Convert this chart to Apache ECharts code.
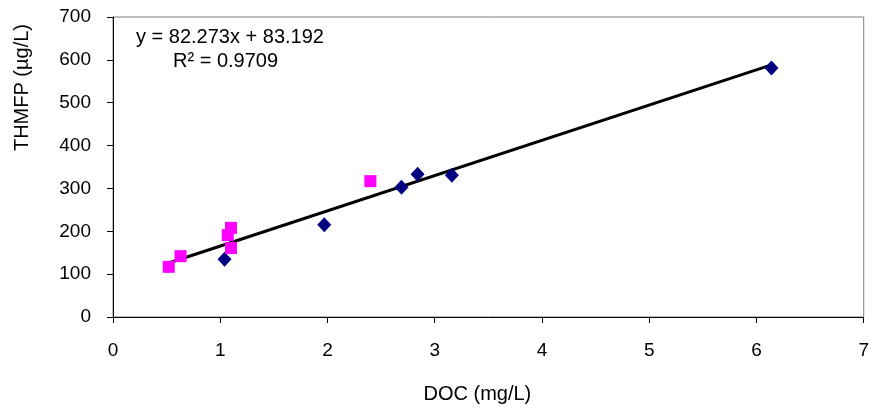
<!DOCTYPE html>
<html>
<head>
<meta charset="utf-8">
<script src="https://cdn.jsdelivr.net/npm/echarts@6/dist/echarts.min.js"></script>
<style>
  html, body { margin: 0; padding: 0; background: #fff; }
  #chart { width: 872px; height: 412px; }
</style>
</head>
<body>
<div id="chart"></div>
<script>
// DOC (mg/L) vs THMFP (µg/L) for two sample groups
const diamondDOC   = [6.14, 3.16, 2.84, 2.69, 1.97, 1.04];
const diamondTHMFP = [581, 331, 333, 303, 215, 135];
const squareDOC    = [0.52, 0.63, 1.10, 1.07, 1.10, 2.40];
const squareTHMFP  = [117, 142, 208, 191, 161, 317];

// Linear trend reported on the chart
const slope = 82.273;
const intercept = 83.192;
const r2 = 0.9709;

const xTicks = [0, 1, 2, 3, 4, 5, 6, 7];
const yTicks = [0, 100, 200, 300, 400, 500, 600, 700];

const FONT = '"Liberation Sans", Arial, sans-serif';

const allX = diamondDOC.concat(squareDOC);
const xMin = Math.min.apply(null, allX);
const xMax = Math.max.apply(null, allX);
const trend = [[xMin, slope * xMin + intercept], [xMax, slope * xMax + intercept]];

const chart = echarts.init(document.getElementById('chart'), null, { renderer: 'canvas' });

chart.setOption({
  backgroundColor: '#ffffff',
  animation: false,
  grid: {
    left: 113, right: 5, top: 17, bottom: 95,
    show: true, borderColor: '#808080', borderWidth: 1, backgroundColor: 'transparent'
  },
  xAxis: {
    type: 'value',
    min: xTicks[0], max: xTicks[xTicks.length - 1], interval: 1,
    name: 'DOC (mg/L)',
    nameLocation: 'middle',
    nameGap: 67,
    nameTextStyle: { fontFamily: FONT, fontSize: 20, color: '#000', padding: [0, 22, 0, 0] },
    axisLine: { show: true, onZero: false, lineStyle: { color: '#000', width: 1 } },
    axisTick: { show: true, inside: false, length: 6, lineStyle: { color: '#000' } },
    axisLabel: { fontFamily: FONT, fontSize: 19, color: '#000', margin: 24 },
    splitLine: { show: false }
  },
  yAxis: {
    type: 'value',
    min: yTicks[0], max: yTicks[yTicks.length - 1], interval: 100,
    axisLine: { show: true, onZero: false, lineStyle: { color: '#000', width: 1 } },
    axisTick: { show: true, inside: false, length: 6, lineStyle: { color: '#000' } },
    axisLabel: { fontFamily: FONT, fontSize: 19, color: '#000', margin: 22 },
    splitLine: { show: false }
  },
  graphic: [
    {
      type: 'text', left: 12, top: 24, rotation: Math.PI / 2,
      style: { text: 'THMFP (µg/L)', font: '20px ' + FONT, fill: '#000' }
    },
    {
      type: 'text', left: 136, top: 27,
      style: { text: 'y = ' + slope + 'x + ' + intercept, font: '20px ' + FONT, fill: '#000' }
    },
    {
      type: 'text', left: 173, top: 51,
      style: { text: 'R² = ' + r2, font: '20px ' + FONT, fill: '#000' }
    }
  ],
  series: [
    {
      type: 'line',
      data: trend,
      symbol: 'none',
      lineStyle: { color: '#000', width: 3 },
      z: 3
    },
    {
      type: 'scatter',
      data: diamondDOC.map((x, i) => [x, diamondTHMFP[i]]),
      symbol: 'diamond',
      symbolSize: [14, 15],
      itemStyle: { color: '#000080', opacity: 1 },
      z: 4
    },
    {
      type: 'scatter',
      data: squareDOC.map((x, i) => [x, squareTHMFP[i]]),
      symbol: 'rect',
      symbolSize: [12, 12],
      itemStyle: { color: '#FF00FF', opacity: 1 },
      z: 4
    }
  ]
});
</script>
</body>
</html>
